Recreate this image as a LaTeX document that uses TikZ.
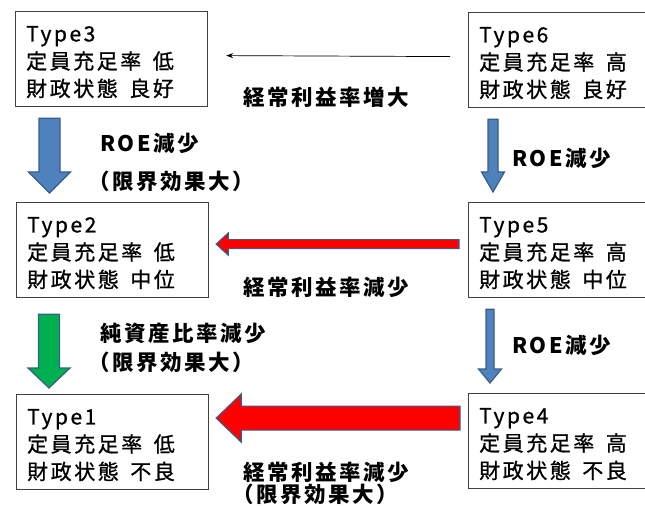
\documentclass[tikz,border=0pt]{standalone}
\usepackage{fontspec}
\setmainfont{Noto Sans CJK JP}[LetterSpace=12]
\newfontfamily\boxfont{Noto Sans CJK JP}[LetterSpace=12, FakeBold=0.9]
\usetikzlibrary{calc,arrows.meta}
\definecolor{arblue}{HTML}{4F81BD}
\definecolor{arborder}{HTML}{385D8A}
\definecolor{arred}{HTML}{FF0000}
\definecolor{argreen}{HTML}{00B050}
\definecolor{boxgray}{HTML}{404040}
% down block arrow: style, start, tip, shaft half width, head half width, head length
\newcommand\downblock[6]{%
  \draw[#1] let \p1=(#2), \p2=(#3) in
    (\x1-#4bp,\y1) -- (\x1+#4bp,\y1) -- (\x1+#4bp,\y2+#6bp) -- (\x1+#5bp,\y2+#6bp)
    -- (\x1,\y2) -- (\x1-#5bp,\y2+#6bp) -- (\x1-#4bp,\y2+#6bp) -- cycle;}
% left block arrow
\newcommand\leftblock[6]{%
  \draw[#1] let \p1=(#2), \p2=(#3) in
    (\x1,\y2+#4bp) -- (\x2+#6bp,\y2+#4bp) -- (\x2+#6bp,\y2+#5bp) -- (\x2,\y2)
    -- (\x2+#6bp,\y2-#5bp) -- (\x2+#6bp,\y2-#4bp) -- (\x1,\y2-#4bp) -- cycle;}
\newcommand\gap{\hspace{0.55em}}
\begin{document}
\begin{tikzpicture}[x=1bp,y=-1bp,
  typebox/.style={draw=boxgray, line width=1.2bp, anchor=north west,
    minimum height=95bp, minimum width=192bp, inner sep=0pt},
  boxtext/.style={anchor=west, align=left, inner xsep=11bp, inner ysep=0pt,
    font=\fontsize{21bp}{27.5bp}\boxfont},
  lbl/.style={anchor=west, inner sep=0pt, font=\fontsize{21.5bp}{27bp}\selectfont\bfseries},
  bluearrow/.style={fill=arblue, draw=arborder, line width=1.2bp},
  redarrow/.style={fill=arred, draw=arborder, line width=1.2bp},
  greenarrow/.style={fill=argreen, draw=arborder, line width=1.2bp},
  thinarrow/.style={draw=black, line width=0.7bp, -{Stealth[length=7bp,width=5bp]}}]
\useasboundingbox (0,0) rectangle (645,506);
\clip (0,0) rectangle (645,506);

\node[typebox] (t3) at (15,11)  {};
\node[typebox] (t6) at (468,12) {};
\node[typebox] (t2) at (16,202) {};
\node[typebox] (t5) at (468,202) {};
\node[typebox] (t1) at (16,394) {};
\node[typebox] (t4) at (468,393) {};
\node[boxtext] (x3) at ($(t3.west)+(0,3)$) {Type3\\定員充足率\gap 低\\財政状態\gap 良好};
\node[boxtext] (x6) at ($(t6.west)+(0,3)$) {Type6\\定員充足率\gap 高\\財政状態\gap 良好};
\node[boxtext] (x2) at ($(t2.west)+(0,3)$) {Type2\\定員充足率\gap 低\\財政状態\gap 中位};
\node[boxtext] (x5) at ($(t5.west)+(0,3)$) {Type5\\定員充足率\gap 高\\財政状態\gap 中位};
\node[boxtext] (x1) at ($(t1.west)+(0,3)$) {Type1\\定員充足率\gap 低\\財政状態\gap 不良};
\node[boxtext] (x4) at ($(t4.west)+(0,3)$) {Type4\\定員充足率\gap 高\\財政状態\gap 不良};

% thin arrow Type6 -> Type3
\coordinate (a1s) at ($(t6.west)+(-18,-3.5)$);
\coordinate (a1e) at ($(t3.east)+(18,-3.5)$);
\draw[thinarrow] (a1s) -- (a1e);
\node[lbl] (l1) at (243,97) {経常利益率増大};

% blue Type3 -> Type2
\coordinate (b1s) at ($(t3.south west)+(34.5,11)$);
\coordinate (b1e) at ($(t2.north west)+(33.5,-9)$);
\downblock{bluearrow}{b1s}{b1e}{10.5}{21}{21}
\node[lbl] (l2) at (100,143) {ROE減少};
\node[lbl] (l3) at (88,181) {（限界効果大）};

% blue Type6 -> Type5
\coordinate (b2s) at ($(t6.south west)+(25,11)$);
\coordinate (b2e) at ($(t5.north west)+(25,-10)$);
\downblock{bluearrow}{b2s}{b2e}{5}{11.5}{20}
\node[lbl] (l4) at (512,158) {ROE減少};

% red Type5 -> Type2
\coordinate (r1s) at ($(t5.west)+(-9,-6)$);
\coordinate (r1e) at ($(t2.east)+(7,-6)$);
\leftblock{redarrow}{r1s}{r1e}{4.5}{11}{12}
\node[lbl] (l5) at (243,287) {経常利益率減少};

% green Type2 -> Type1
\coordinate (g1s) at ($(t2.south west)+(33,16)$);
\coordinate (g1e) at ($(t1.north west)+(33,-6)$);
\downblock{greenarrow}{g1s}{g1e}{10.5}{21}{20}
\node[lbl] (l6) at (100,333) {純資産比率減少};
\node[lbl] (l7) at (88,362) {（限界効果大）};

% blue Type5 -> Type4
\coordinate (b3s) at ($(t5.south west)+(22,11)$);
\coordinate (b3e) at ($(t4.north west)+(22,-10)$);
\downblock{bluearrow}{b3s}{b3e}{4}{11.5}{14}
\node[lbl] (l8) at (512,345) {ROE減少};

% red Type4 -> Type1
\coordinate (r2s) at ($(t4.west)+(-8,-23.5)$);
\coordinate (r2e) at ($(t1.east)+(7,-24)$);
\leftblock{redarrow}{r2s}{r2e}{12}{24}{25}
\node[lbl] (l9) at (243,472) {経常利益率減少};
\node[lbl] (l10) at (232,494) {（限界効果大）};
\end{tikzpicture}
\end{document}
